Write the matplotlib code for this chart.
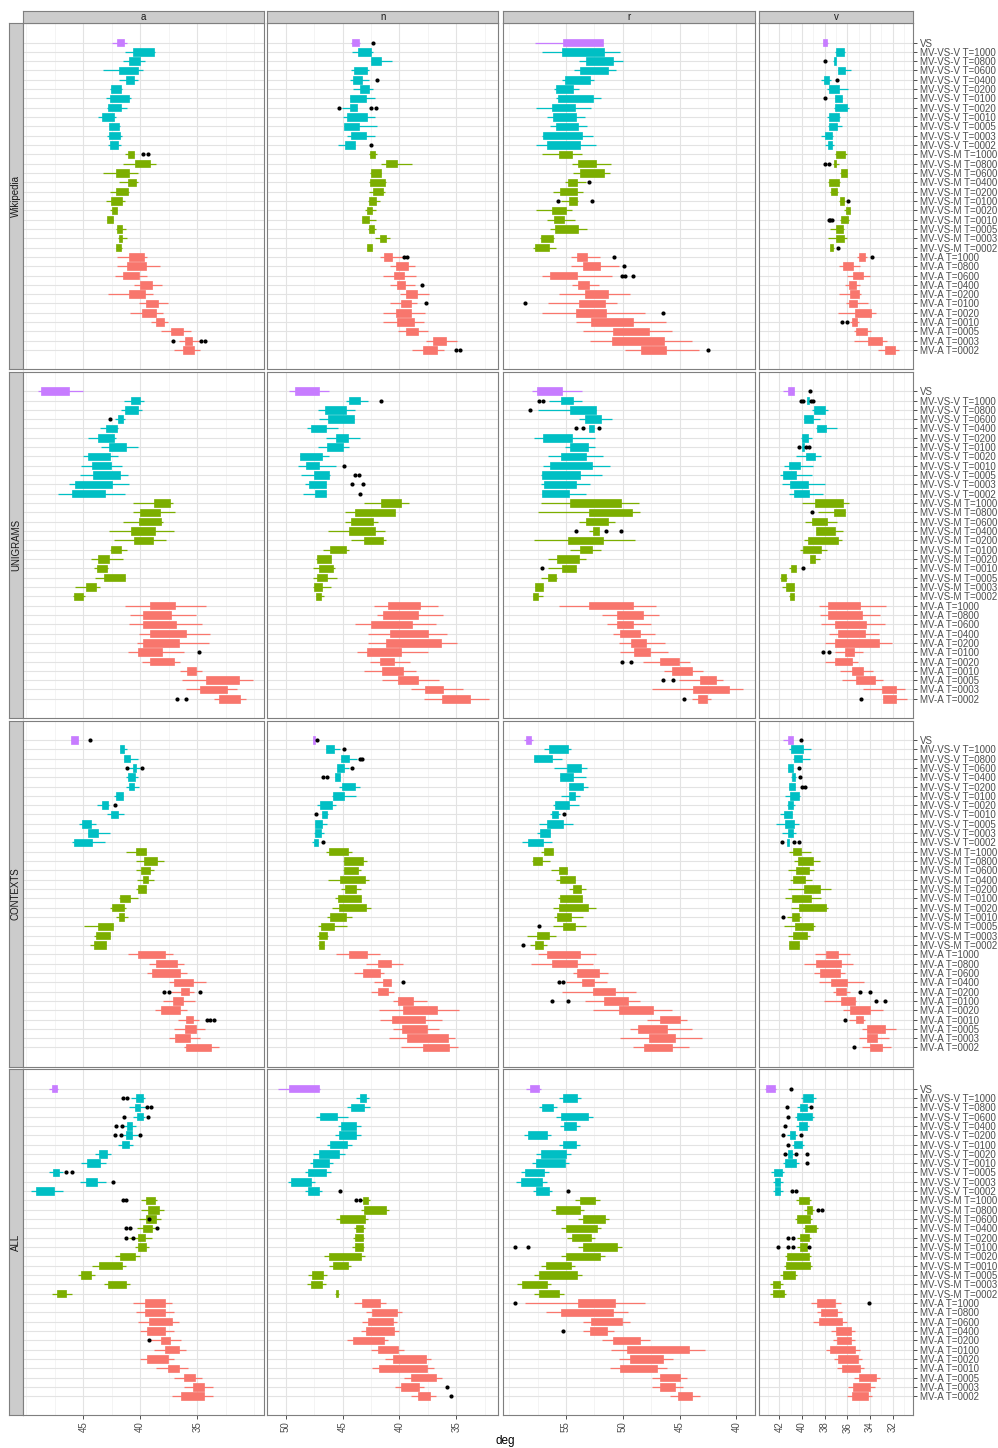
import matplotlib.pyplot as plt

plt.rcParams['font.family'] = ['Liberation Sans', 'DejaVu Sans']

t_codes = ["1000", "0800", "0600", "0400", "0200", "0100", "0020", "0010", "0005", "0003", "0002"]
categories = (["VS"] + ["MV-VS-V T=" + t for t in t_codes]
              + ["MV-VS-M T=" + t for t in t_codes] + ["MV-A T=" + t for t in t_codes])
group_colors = ["#C77CFF"] + ["#00BFC4"] * 11 + ["#7CAE00"] * 11 + ["#F8766D"] * 11

sources = ["Wikipedia", "UNIGRAMS", "CONTEXTS", "ALL"]
parts = ["a", "n", "r", "v"]

# x range (left, right) and labelled ticks of each column
col_limits = [(50.33, 29.11), (51.62, 31.31), (60.57, 38.33), (43.82, 30.18)]
col_ticks = [[45, 40, 35], [50, 45, 40, 35], [55, 50, 45, 40], [42, 40, 38, 36, 34, 32]]
col_minor = [[50, 47.5, 42.5, 37.5, 32.5, 30], [47.5, 42.5, 37.5, 32.5],
             [60, 57.5, 52.5, 47.5, 42.5, 40.0], [43, 41, 39, 37, 35, 33, 31]]

# box stats per row: (whisker low, q1, q3, whisker high), rows top to bottom
wiki_a = [(41.17, 41.47, 42.05, 42.52), (38.71, 38.77, 40.64, 41.35), (39.62, 40.06, 41.00, 41.52),
          (39.73, 40.23, 41.88, 43.31), (40.23, 40.53, 41.29, 41.91), (41.61, 41.70, 42.58, 42.64),
          (40.79, 41.00, 42.70, 43.05), (41.14, 41.67, 42.87, 42.93), (42.11, 42.32, 43.37, 43.75),
          (41.82, 41.91, 42.73, 42.76), (41.64, 41.76, 42.79, 42.90), (41.67, 41.97, 42.67, 42.84),
          (40.58, 40.58, 41.08, 41.35), (38.59, 39.18, 40.47, 41.52), (40.23, 40.99, 42.11, 43.31),
          (40.23, 40.41, 41.08, 41.91), (41.03, 41.05, 42.17, 42.70), (41.32, 41.64, 42.61, 43.02),
          (42.05, 42.08, 42.49, 42.70), (42.37, 42.43, 42.93, 42.93), (41.29, 41.58, 42.05, 42.11),
          (41.20, 41.58, 41.88, 41.93), (41.61, 41.67, 42.11, 42.17), (39.38, 39.71, 41.00, 42.05),
          (38.30, 39.47, 41.17, 42.08), (39.44, 40.14, 41.52, 42.26), (38.12, 39.00, 40.00, 40.56),
          (38.88, 39.62, 41.00, 42.82), (37.59, 38.41, 39.50, 40.14), (37.97, 38.65, 39.85, 40.94),
          (37.53, 37.94, 38.59, 39.09), (35.51, 36.24, 37.33, 38.15), (34.78, 35.48, 36.10, 36.59),
          (34.72, 35.25, 36.24, 37.00)]
wiki_a_out = [(12, 39.73), (12, 39.32), (32, 37.09), (32, 34.63), (32, 34.34)]

wiki_n = [(43.46, 43.55, 44.19, 44.28), (42.29, 42.49, 43.66, 44.16), (40.70, 41.61, 42.52, 42.52),
          (42.70, 42.88, 44.00, 44.22), (42.70, 43.28, 44.10, 44.37), (42.35, 42.64, 43.49, 44.07),
          (42.14, 42.93, 44.34, 44.37), (43.69, 43.72, 44.34, 45.07), (42.11, 42.85, 44.60, 44.93),
          (42.00, 43.55, 44.87, 44.87), (42.17, 42.93, 44.22, 44.57), (43.90, 43.90, 44.75, 45.39),
          (41.99, 42.11, 42.58, 42.64), (38.90, 40.23, 41.17, 41.58), (41.61, 41.61, 42.46, 42.61),
          (41.20, 41.23, 42.61, 42.64), (41.26, 41.46, 42.35, 42.64), (41.70, 42.08, 42.72, 42.81),
          (42.02, 42.43, 42.84, 43.05), (42.08, 42.67, 43.28, 43.31), (42.02, 42.23, 42.67, 42.78),
          (40.82, 41.14, 41.70, 42.11), (42.38, 42.40, 42.84, 42.87), (39.71, 40.62, 41.32, 41.70),
          (38.62, 39.29, 40.29, 40.79), (38.56, 39.56, 40.44, 41.49), (38.65, 39.47, 40.23, 40.79),
          (37.36, 38.50, 39.44, 39.94), (38.47, 39.00, 39.88, 40.85), (37.77, 39.00, 40.29, 41.43),
          (37.83, 38.76, 40.20, 41.49), (37.48, 38.33, 39.41, 40.12), (34.95, 35.89, 37.01, 37.65),
          (36.07, 36.71, 37.89, 38.91)]
wiki_n_out = [(0, 42.32), (4, 41.96), (7, 45.28), (7, 42.49), (7, 42.05), (11, 42.52), (23, 39.59),
              (23, 39.35), (26, 38.06), (28, 37.65), (33, 35.01), (33, 34.66)]

wiki_r = [(51.70, 51.70, 55.22, 57.77), (50.23, 51.64, 55.31, 57.12), (49.94, 50.82, 53.25, 53.84),
          (50.58, 51.32, 53.75, 54.28), (52.52, 52.87, 55.07, 55.31), (53.84, 54.40, 55.86, 56.01),
          (51.93, 52.64, 55.66, 55.92), (52.82, 54.19, 56.19, 57.65), (53.34, 54.16, 56.10, 56.66),
          (53.17, 53.96, 55.86, 56.39), (52.64, 53.61, 56.98, 57.12), (52.35, 53.78, 56.66, 57.68),
          (53.61, 54.46, 55.57, 57.12), (51.05, 52.37, 53.93, 54.46), (51.11, 51.67, 53.75, 54.34),
          (53.23, 54.04, 54.81, 55.07), (53.52, 53.99, 55.54, 56.10), (53.96, 53.99, 54.72, 55.45),
          (54.49, 55.01, 56.24, 57.65), (54.19, 55.13, 56.07, 56.69), (53.17, 53.90, 55.95, 56.39),
          (56.04, 56.16, 57.18, 57.27), (55.92, 56.51, 57.74, 57.92), (51.99, 53.14, 54.07, 54.57),
          (50.35, 51.99, 53.46, 54.54), (50.94, 54.04, 56.39, 57.15), (52.11, 52.96, 53.93, 54.51),
          (49.35, 51.26, 53.28, 55.57), (50.47, 51.55, 53.87, 56.57), (48.03, 51.47, 54.10, 57.15),
          (46.19, 49.06, 52.81, 54.10), (45.69, 47.68, 50.82, 53.46), (43.93, 46.36, 50.91, 52.87),
          (43.28, 46.19, 48.39, 49.76)]
wiki_r_out = [(15, 52.99), (17, 55.69), (17, 52.70), (23, 50.73), (24, 49.88), (25, 50.06), (25, 49.82),
              (25, 49.12), (28, 58.65), (29, 46.48), (33, 42.52)]

wiki_v = [(37.68, 37.80, 38.12, 38.12), (36.18, 36.27, 36.98, 37.12), (36.98, 37.00, 37.21, 37.27),
          (35.71, 36.24, 36.83, 36.86), (37.45, 37.62, 38.03, 38.36), (35.95, 36.77, 37.62, 37.77),
          (36.48, 36.48, 37.09, 37.12), (35.89, 36.07, 37.06, 37.21), (36.65, 36.77, 37.59, 37.80),
          (36.45, 36.89, 37.59, 37.74), (37.27, 37.39, 37.94, 38.33), (37.21, 37.33, 37.68, 38.00),
          (36.04, 36.21, 36.98, 37.12), (36.74, 37.00, 37.21, 37.27), (36.04, 36.04, 36.56, 36.62),
          (36.65, 36.77, 37.62, 37.74), (36.80, 36.92, 37.45, 37.56), (36.18, 36.33, 36.68, 36.77),
          (35.74, 35.74, 36.15, 36.33), (35.86, 35.95, 36.53, 36.62), (36.33, 36.39, 36.98, 37.56),
          (36.01, 36.33, 37.00, 37.68), (37.18, 37.24, 37.50, 37.56), (34.27, 34.45, 34.98, 35.16),
          (34.86, 35.51, 36.39, 36.77), (34.04, 34.63, 35.51, 36.04), (34.86, 35.24, 35.89, 36.24),
          (34.80, 35.00, 35.77, 36.71), (34.21, 35.13, 35.86, 36.12), (33.51, 33.89, 35.36, 36.83),
          (34.95, 35.16, 35.57, 35.74), (33.92, 34.27, 35.27, 35.45), (32.52, 32.98, 34.16, 35.42),
          (31.40, 31.78, 32.66, 33.27)]
wiki_v_out = [(2, 37.97), (4, 36.89), (6, 37.97), (13, 38.00), (13, 37.65), (17, 35.98), (19, 37.65),
              (19, 37.50), (19, 37.33), (22, 36.80), (23, 33.80), (30, 36.48), (30, 36.07)]

uni_a = [(45.04, 46.28, 48.68, 49.01), (39.71, 40.03, 40.85, 41.44), (39.82, 40.17, 41.38, 41.67),
         (41.38, 41.55, 41.96, 42.26), (41.99, 42.02, 42.99, 43.58), (42.11, 42.35, 43.75, 44.58),
         (40.17, 41.29, 42.76, 43.43), (41.93, 42.64, 44.63, 45.02), (41.58, 42.55, 44.25, 45.25),
         (41.11, 41.82, 44.17, 45.31), (41.00, 42.46, 45.78, 46.22), (41.38, 43.08, 46.01, 47.19),
         (37.09, 37.36, 38.77, 40.67), (36.92, 38.27, 40.06, 40.67), (37.97, 38.21, 40.09, 41.52),
         (37.03, 38.74, 40.82, 42.76), (37.77, 38.85, 40.59, 42.32), (41.14, 41.70, 42.55, 42.67),
         (41.52, 42.73, 43.72, 44.31), (42.82, 42.93, 43.81, 44.08), (41.32, 41.32, 43.17, 43.96),
         (43.58, 43.90, 44.75, 45.78), (44.84, 45.02, 45.81, 45.95), (34.19, 36.92, 39.18, 41.35),
         (35.13, 37.27, 39.73, 40.94), (34.54, 36.89, 39.79, 40.97), (33.87, 36.01, 39.18, 40.09),
         (33.98, 36.57, 39.73, 40.29), (36.20, 38.06, 40.20, 41.11), (36.54, 37.00, 39.18, 39.82),
         (34.54, 35.13, 35.86, 36.54), (30.08, 31.37, 34.25, 36.36), (31.55, 32.43, 34.78, 36.01),
         (30.70, 31.25, 33.10, 33.57)]
uni_a_out = [(3, 42.64), (28, 34.86), (33, 36.77), (33, 36.01)]

uni_n = [(46.19, 47.09, 49.18, 49.67), (42.78, 43.49, 44.45, 44.69), (43.87, 44.69, 46.54, 47.18),
         (44.01, 44.01, 46.30, 47.06), (45.36, 46.45, 47.77, 48.12), (43.46, 44.54, 45.60, 46.45),
         (44.48, 44.98, 46.39, 47.15), (46.16, 46.83, 48.71, 48.77), (45.60, 47.04, 48.21, 48.88),
         (46.07, 46.16, 47.50, 48.65), (46.45, 46.45, 47.92, 48.30), (46.48, 46.48, 47.42, 48.47),
         (39.12, 39.85, 41.61, 43.08), (40.38, 40.38, 43.90, 44.75), (41.90, 42.32, 44.25, 44.75),
         (41.29, 42.17, 44.48, 46.24), (41.14, 41.46, 43.11, 44.25), (44.48, 44.72, 46.07, 46.68),
         (46.04, 46.04, 47.27, 47.36), (45.63, 45.86, 47.06, 47.56), (45.51, 46.39, 47.27, 47.56),
         (46.04, 46.77, 47.50, 47.62), (46.62, 46.86, 47.30, 47.36), (36.63, 38.18, 41.02, 42.26),
         (36.19, 38.39, 41.46, 41.99), (36.77, 38.91, 42.49, 43.87), (35.80, 37.45, 40.82, 42.81),
         (34.98, 36.36, 41.17, 42.78), (37.53, 39.88, 42.87, 43.69), (39.06, 40.47, 41.67, 42.58),
         (38.53, 39.65, 41.52, 43.08), (36.54, 38.39, 40.09, 41.52), (34.37, 36.21, 37.77, 39.00),
         (32.17, 33.78, 36.30, 37.83)]
uni_n_out = [(1, 41.61), (8, 44.90), (9, 43.87), (9, 43.58), (10, 44.16), (10, 43.17), (11, 43.46)]

uni_r = [(53.55, 55.37, 57.56, 57.95), (53.61, 54.40, 55.42, 56.45), (52.37, 52.37, 54.63, 57.48),
         (50.97, 51.90, 53.31, 53.84), (52.55, 52.55, 52.93, 52.93), (52.43, 54.49, 56.98, 57.80),
         (52.43, 53.08, 54.63, 55.07), (51.76, 53.25, 55.42, 56.54), (51.14, 52.67, 56.39, 57.04),
         (51.85, 53.78, 57.07, 57.18), (52.90, 54.10, 56.89, 57.24), (53.23, 54.72, 57.15, 57.15),
         (48.59, 50.15, 54.63, 57.21), (48.44, 49.18, 52.93, 57.45), (50.67, 51.26, 53.22, 53.84),
         (52.11, 52.11, 52.61, 52.93), (48.88, 51.76, 54.84, 57.80), (51.93, 52.67, 53.75, 54.63),
         (53.25, 53.81, 55.75, 56.54), (54.13, 54.13, 55.34, 56.54), (55.81, 55.89, 56.54, 57.24),
         (56.98, 56.98, 57.71, 57.77), (57.04, 57.42, 57.86, 57.92), (47.10, 49.12, 52.93, 55.57),
         (46.83, 48.24, 50.53, 51.85), (47.51, 49.12, 50.47, 51.38), (47.13, 48.50, 50.20, 50.88),
         (46.25, 47.97, 49.26, 50.29), (45.98, 47.59, 48.97, 50.23), (44.07, 45.01, 46.68, 48.18),
         (42.90, 43.93, 45.63, 46.39), (41.14, 41.82, 43.20, 45.01), (39.38, 40.67, 43.81, 47.42),
         (42.26, 42.55, 43.34, 43.87)]
uni_r_out = [(1, 57.33), (1, 57.04), (2, 58.15), (4, 54.10), (4, 53.49), (4, 52.05), (15, 54.13),
             (15, 51.49), (15, 50.12), (19, 57.07), (29, 50.03), (29, 49.29), (31, 46.45), (31, 45.60),
             (33, 44.57)]

uni_v = [(40.74, 40.74, 41.21, 41.67), (39.35, 39.35, 39.53, 39.56), (37.74, 37.97, 38.97, 39.09),
         (38.44, 39.03, 39.79, 39.85), (36.92, 37.89, 38.68, 38.74), (39.12, 39.47, 40.00, 40.06),
         (39.85, 39.85, 40.03, 40.03), (38.33, 38.88, 39.62, 40.50), (39.03, 40.15, 41.15, 41.56),
         (39.12, 40.56, 41.67, 41.91), (38.00, 39.47, 41.09, 41.79), (38.18, 39.38, 40.71, 41.15),
         (35.86, 36.39, 38.83, 40.00), (36.21, 36.21, 37.21, 38.56), (36.92, 37.80, 39.09, 39.76),
         (36.39, 37.12, 38.74, 38.74), (36.48, 36.80, 39.44, 39.85), (37.80, 38.33, 39.91, 40.21),
         (38.39, 38.86, 39.27, 39.32), (40.56, 40.56, 40.94, 41.15), (41.32, 41.38, 41.82, 41.91),
         (40.71, 40.71, 41.38, 41.76), (40.74, 40.74, 41.09, 41.15), (32.60, 34.86, 37.74, 38.53),
         (33.10, 34.71, 37.74, 38.39), (32.66, 34.39, 37.12, 38.30), (33.22, 34.48, 36.86, 37.65),
         (32.07, 33.25, 37.06, 37.94), (34.63, 35.42, 36.24, 37.06), (35.10, 35.60, 37.06, 37.94),
         (33.75, 34.63, 35.63, 36.68), (32.89, 33.57, 35.21, 36.48), (30.90, 31.72, 32.95, 34.63),
         (30.75, 31.69, 32.86, 32.86)]
uni_v_out = [(0, 39.27), (1, 40.09), (1, 39.91), (1, 39.21), (1, 39.03), (6, 40.29), (6, 39.62),
             (6, 39.41), (13, 39.09), (19, 39.94), (28, 38.18), (28, 37.59), (33, 34.78)]

ctx_a = [(45.43, 45.43, 46.10, 46.10), (41.17, 41.41, 41.76, 41.82), (40.23, 40.91, 41.44, 41.47),
         (40.06, 40.35, 40.64, 41.08), (40.20, 40.50, 41.08, 41.29), (40.14, 40.59, 41.03, 41.29),
         (41.55, 41.55, 42.14, 42.35), (42.76, 42.87, 43.40, 43.78), (41.47, 41.99, 42.61, 42.90),
         (43.93, 44.37, 45.13, 45.40), (42.70, 43.72, 44.58, 44.63), (43.08, 44.25, 45.81, 46.01),
         (39.50, 39.50, 40.35, 41.26), (37.91, 38.50, 39.65, 40.41), (38.83, 39.12, 39.97, 40.41),
         (38.83, 39.29, 39.76, 40.26), (39.47, 39.47, 40.23, 40.35), (40.23, 40.94, 41.82, 41.91),
         (41.23, 41.44, 42.52, 42.70), (41.05, 41.44, 41.91, 42.17), (42.40, 42.40, 43.75, 44.93),
         (42.70, 42.70, 43.90, 44.08), (43.02, 43.02, 44.11, 44.46), (37.12, 37.86, 40.17, 41.08),
         (36.18, 36.77, 38.65, 39.23), (35.89, 36.54, 38.97, 39.44), (34.19, 35.36, 37.03, 37.50),
         (35.30, 35.74, 36.45, 37.30), (35.16, 36.21, 37.09, 38.00), (35.89, 36.54, 38.18, 38.74),
         (34.86, 35.36, 36.01, 36.65), (34.28, 35.13, 36.10, 37.06), (34.72, 35.60, 36.94, 37.47),
         (33.07, 33.78, 35.95, 36.15)]
ctx_a_out = [(0, 44.43), (3, 41.20), (3, 39.88), (7, 42.26), (27, 37.94), (27, 37.50), (27, 34.75),
             (30, 34.13), (30, 33.84), (30, 33.54)]

ctx_n = [(47.39, 47.39, 47.56, 47.56), (45.22, 45.77, 46.45, 46.45), (43.69, 44.42, 45.13, 45.13),
         (44.48, 44.92, 45.45, 45.51), (45.22, 45.22, 45.63, 45.63), (43.46, 43.93, 45.01, 45.31),
         (43.84, 44.89, 45.86, 45.95), (45.60, 45.95, 46.98, 47.21), (46.24, 46.39, 46.77, 46.83),
         (46.33, 46.77, 47.42, 47.45), (46.65, 46.89, 47.42, 47.48), (47.12, 47.18, 47.50, 47.68),
         (44.19, 44.54, 46.16, 46.45), (42.87, 43.19, 44.92, 44.98), (43.34, 43.66, 44.92, 44.98),
         (42.67, 42.99, 45.22, 46.30), (43.40, 43.84, 44.78, 45.13), (43.37, 43.37, 45.36, 45.66),
         (42.52, 42.93, 45.31, 45.92), (44.19, 44.69, 46.07, 46.39), (44.63, 45.74, 46.89, 47.12),
         (46.30, 46.33, 47.06, 47.21), (46.62, 46.62, 47.06, 47.12), (41.70, 42.87, 44.48, 45.57),
         (39.65, 40.76, 41.93, 42.93), (41.40, 41.67, 43.17, 43.98), (40.73, 40.73, 41.41, 42.20),
         (40.44, 40.99, 41.90, 42.52), (37.62, 38.80, 40.15, 40.61), (34.75, 36.74, 39.65, 41.79),
         (36.24, 37.74, 40.67, 41.70), (36.54, 37.59, 39.79, 40.61), (35.10, 35.72, 39.35, 40.91),
         (34.87, 35.66, 37.92, 39.88)]
ctx_n_out = [(0, 47.21), (1, 44.92), (2, 43.46), (2, 43.28), (3, 44.19), (4, 46.68), (4, 46.39),
             (8, 47.33), (11, 46.68), (26, 39.73)]

ctx_r = [(57.92, 58.09, 58.50, 58.68), (54.57, 54.78, 56.51, 56.89), (55.34, 56.22, 57.83, 57.83),
         (53.14, 53.69, 54.93, 56.01), (53.23, 54.34, 55.51, 55.51), (53.05, 53.46, 54.75, 54.75),
         (53.75, 54.19, 54.75, 55.45), (53.81, 54.75, 55.98, 56.10), (55.51, 55.72, 56.19, 56.39),
         (54.40, 55.22, 56.63, 57.33), (56.39, 56.39, 57.27, 57.51), (56.24, 56.98, 58.30, 58.85),
         (56.10, 56.13, 56.89, 57.21), (56.39, 57.07, 57.89, 58.03), (54.93, 54.93, 55.60, 56.30),
         (54.22, 54.22, 55.51, 55.86), (53.25, 53.72, 54.40, 54.72), (53.58, 53.58, 55.51, 55.69),
         (52.34, 53.08, 55.60, 56.13), (53.46, 54.54, 55.75, 56.04), (53.23, 54.19, 55.28, 56.16),
         (55.89, 56.48, 57.56, 58.44), (56.69, 57.04, 57.77, 58.15), (52.34, 53.75, 56.66, 57.45),
         (52.61, 53.99, 56.19, 58.06), (51.32, 52.08, 54.02, 54.40), (51.41, 52.52, 53.58, 54.99),
         (48.79, 50.67, 52.61, 55.34), (48.47, 49.56, 51.61, 53.31), (45.69, 47.36, 50.32, 52.61),
         (44.37, 44.95, 46.71, 47.89), (43.93, 46.13, 48.65, 49.32), (43.02, 45.40, 47.71, 50.20),
         (44.16, 45.66, 48.15, 49.09)]
ctx_r_out = [(8, 55.19), (20, 57.33), (22, 58.80), (26, 55.60), (26, 55.22), (28, 56.27), (28, 54.84)]

ctx_v = [(40.79, 40.79, 41.26, 41.70), (39.18, 39.91, 40.94, 41.12), (39.27, 39.97, 40.74, 40.79),
         (40.79, 40.79, 41.21, 41.21), (40.53, 40.59, 40.91, 40.97), (40.59, 40.59, 41.15, 41.18),
         (40.21, 40.24, 41.03, 41.53), (40.59, 40.82, 41.26, 41.32), (40.85, 40.85, 41.62, 41.91),
         (40.29, 40.68, 41.53, 42.26), (40.50, 40.77, 41.26, 41.73), (41.15, 41.15, 41.35, 41.35),
         (39.21, 40.09, 40.82, 41.15), (38.44, 39.03, 40.32, 40.74), (38.97, 39.35, 40.50, 41.21),
         (39.12, 39.74, 40.79, 41.03), (37.42, 38.39, 39.82, 41.21), (38.33, 39.18, 40.88, 41.53),
         (37.71, 37.86, 40.26, 40.94), (40.09, 40.24, 40.88, 41.32), (38.83, 39.00, 40.59, 41.56),
         (39.29, 39.56, 40.82, 41.24), (40.29, 40.29, 41.15, 41.15), (35.80, 36.86, 37.86, 38.83),
         (35.54, 36.56, 38.74, 39.85), (36.18, 36.62, 38.39, 38.97), (34.57, 36.04, 37.42, 38.53),
         (35.80, 36.10, 36.98, 37.30), (35.21, 35.30, 36.56, 38.09), (32.81, 34.04, 35.74, 36.39),
         (34.45, 34.63, 35.21, 35.89), (31.69, 32.69, 34.24, 34.71), (32.36, 33.39, 34.30, 34.98),
         (32.16, 32.95, 33.98, 34.74)]
ctx_v_out = [(0, 40.06), (3, 40.29), (4, 40.21), (5, 39.97), (5, 39.74), (11, 41.79), (11, 40.68),
             (11, 40.29), (19, 41.67), (27, 34.86), (27, 33.98), (28, 33.45), (28, 32.72), (30, 36.21),
             (33, 35.39)]

all_a = [(47.2, 47.3, 47.8, 48.0), (39.6, 39.8, 40.4, 40.8), (39.4, 40.0, 40.5, 41.0),
         (39.6, 39.8, 40.3, 40.6), (40.4, 40.7, 41.2, 41.5), (40.2, 40.7, 41.3, 41.7),
         (40.6, 41.0, 41.6, 42.0), (42.6, 42.9, 43.6, 44.0), (43.0, 43.5, 44.7, 45.2),
         (46.8, 47.1, 47.7, 48.0), (43.0, 43.8, 44.8, 45.3), (46.8, 47.6, 49.2, 49.6),
         (38.5, 38.7, 39.5, 39.9), (37.9, 38.4, 39.3, 39.9), (38.2, 38.6, 39.5, 40.1),
         (38.6, 39.0, 39.8, 40.3), (39.0, 39.6, 40.2, 41.0), (39.2, 39.5, 40.2, 40.5),
         (40.0, 40.5, 41.8, 42.2), (41.3, 41.6, 43.6, 44.2), (44.0, 44.3, 45.2, 45.5),
         (40.9, 41.3, 42.8, 43.2), (46.0, 46.5, 47.3, 47.8), (37.2, 37.8, 39.6, 40.6),
         (37.0, 37.8, 39.6, 40.4), (36.6, 37.2, 39.2, 40.2), (37.0, 37.8, 39.4, 40.0),
         (36.4, 37.4, 38.2, 39.2), (36.0, 36.6, 37.8, 38.8), (37.0, 37.6, 39.4, 40.0),
         (35.8, 36.6, 37.6, 38.6), (34.6, 35.2, 36.2, 37.0), (33.6, 34.4, 35.4, 36.2),
         (33.6, 34.4, 36.4, 37.2)]
all_a_out = [(1, 41.5), (1, 41.2), (2, 39.4), (2, 39.1), (3, 41.4), (3, 39.3), (4, 42.1), (4, 41.6),
             (5, 42.2), (5, 41.7), (5, 40.0), (9, 46.5), (9, 46.0), (10, 42.4), (12, 41.5), (12, 41.3),
             (14, 39.2), (15, 41.3), (15, 40.9), (15, 38.5), (16, 41.3), (16, 40.6), (27, 39.2)]

all_n = [(47.0, 47.1, 49.7, 50.7), (42.7, 42.9, 43.5, 43.8), (42.6, 43.1, 44.3, 44.6),
         (44.5, 45.5, 47.0, 47.3), (43.4, 43.8, 45.1, 45.4), (43.4, 43.8, 45.3, 45.7),
         (44.2, 44.6, 46.1, 46.4), (44.8, 45.3, 47.1, 47.6), (45.8, 46.2, 47.6, 47.9),
         (46.0, 46.5, 48.0, 48.3), (47.4, 47.8, 49.5, 49.8), (46.8, 47.1, 48.0, 48.3),
         (42.6, 42.8, 43.2, 43.4), (40.9, 41.2, 43.1, 43.4), (42.8, 43.0, 45.2, 45.6),
         (43.0, 43.2, 43.8, 44.0), (43.1, 43.2, 43.9, 44.1), (43.1, 43.2, 43.9, 44.2),
         (43.0, 43.4, 46.2, 46.6), (44.3, 44.5, 45.8, 46.2), (46.4, 46.7, 47.7, 48.0),
         (46.5, 46.8, 47.8, 48.1), (45.3, 45.4, 45.6, 45.7), (41.2, 41.7, 43.3, 44.0),
         (39.8, 40.2, 42.4, 42.9), (40.2, 40.6, 42.8, 43.3), (40.0, 40.5, 42.9, 43.4),
         (41.0, 41.4, 44.1, 44.6), (39.6, 40.1, 41.9, 42.5), (37.2, 37.7, 40.6, 41.3),
         (37.0, 37.6, 41.8, 42.4), (36.3, 36.8, 39.0, 39.6), (37.8, 38.3, 39.9, 40.4),
         (36.8, 37.3, 38.4, 39.0)]
all_n_out = [(11, 45.2), (12, 43.8), (12, 43.5), (32, 35.8), (33, 35.5)]

all_r = [(57.2, 57.4, 58.2, 58.5), (53.7, 54.0, 55.3, 55.6), (55.8, 56.1, 57.1, 57.4),
         (52.6, 53.1, 55.4, 55.9), (53.8, 54.1, 55.2, 55.5), (56.3, 56.7, 58.3, 58.7),
         (53.8, 54.1, 55.3, 55.6), (54.6, 55.0, 57.2, 57.6), (54.7, 55.1, 57.6, 58.0),
         (56.5, 56.9, 58.6, 59.0), (56.7, 57.1, 59.0, 59.4), (56.2, 56.5, 57.6, 57.9),
         (52.0, 52.4, 53.8, 54.2), (53.4, 53.8, 55.9, 56.3), (51.2, 51.6, 53.5, 53.9),
         (51.9, 52.3, 55.0, 55.4), (52.4, 52.8, 54.5, 54.9), (50.1, 50.5, 53.5, 53.9),
         (51.6, 52.0, 55.0, 55.4), (54.2, 54.6, 56.8, 57.2), (53.6, 54.0, 57.4, 57.8),
         (56.3, 56.7, 58.9, 59.3), (55.2, 55.6, 57.4, 57.8), (48.0, 50.7, 53.9, 58.6),
         (49.5, 50.9, 55.4, 56.8), (49.4, 50.1, 52.8, 53.5), (50.8, 51.4, 52.9, 53.5),
         (47.6, 48.5, 50.9, 51.8), (42.8, 44.2, 49.6, 51.0), (45.6, 46.5, 49.4, 50.3),
         (46.1, 47.0, 50.2, 51.1), (44.3, 45.0, 46.7, 47.4), (44.7, 45.4, 46.7, 47.4),
         (43.2, 43.9, 45.1, 45.8)]
all_r_out = [(11, 54.8), (17, 59.5), (17, 58.3), (23, 59.5), (26, 55.3)]

all_v = [(42.3, 42.4, 43.2, 43.3), (38.8, 39.0, 39.9, 40.1), (39.4, 39.6, 40.2, 40.4),
         (38.9, 39.1, 40.4, 40.6), (39.4, 39.6, 40.3, 40.5), (40.4, 40.6, 41.1, 41.3),
         (39.8, 40.0, 40.7, 40.9), (40.7, 40.9, 41.2, 41.4), (40.3, 40.5, 41.5, 41.7),
         (41.6, 41.8, 42.5, 42.7), (41.7, 41.9, 42.4, 42.6), (41.7, 41.9, 42.4, 42.6),
         (39.2, 39.4, 40.3, 40.5), (38.9, 39.1, 39.6, 39.8), (39.1, 39.3, 40.4, 40.6),
         (38.6, 38.8, 39.7, 39.9), (39.2, 39.4, 40.2, 40.4), (39.4, 39.6, 40.2, 40.4),
         (39.2, 39.4, 41.3, 41.5), (39.1, 39.3, 41.4, 41.6), (40.4, 40.6, 41.7, 41.9),
         (41.7, 41.9, 42.6, 42.8), (41.4, 41.6, 42.6, 42.8), (36.6, 37.1, 38.7, 39.2),
         (36.5, 36.9, 38.3, 38.7), (36.0, 36.5, 38.5, 39.0), (35.3, 35.7, 37.0, 37.4),
         (35.3, 35.7, 36.9, 37.3), (34.9, 35.3, 37.5, 37.9), (34.7, 35.1, 36.8, 37.2),
         (34.5, 34.9, 36.5, 36.9), (33.1, 33.5, 35.0, 35.4), (33.6, 34.0, 35.5, 35.9),
         (33.8, 34.2, 35.6, 36.0)]
all_v_out = [(0, 41.0), (2, 41.3), (2, 39.2), (3, 41.2), (4, 41.5), (5, 41.7), (5, 40.1), (6, 41.2),
             (7, 41.5), (7, 40.5), (7, 39.6), (8, 39.6), (11, 40.9), (11, 40.5), (13, 38.6), (13, 38.2),
             (16, 41.2), (16, 40.8), (17, 42.1), (17, 41.2), (17, 40.8), (17, 39.4), (23, 34.1)]

panels = [[(wiki_a, wiki_a_out), (wiki_n, wiki_n_out), (wiki_r, wiki_r_out), (wiki_v, wiki_v_out)],
          [(uni_a, uni_a_out), (uni_n, uni_n_out), (uni_r, uni_r_out), (uni_v, uni_v_out)],
          [(ctx_a, ctx_a_out), (ctx_n, ctx_n_out), (ctx_r, ctx_r_out), (ctx_v, ctx_v_out)],
          [(all_a, all_a_out), (all_n, all_n_out), (all_r, all_r_out), (all_v, all_v_out)]]

W, H = 998, 1448


def px_rect(x0, x1, y0, y1):
    return [x0 / W, 1 - y1 / H, (x1 - x0) / W, (y1 - y0) / H]


col_px = [(22.7, 264.3), (267.3, 498.3), (502.7, 755.3), (758.7, 913.3)]
row_top = [23.3, 372.0, 720.7, 1069.4]
row_h = 346.0
pad = 2.06
border = '#7F7F7F'

fig = plt.figure(figsize=(W / 100, H / 100), dpi=100)

for r in range(4):
    y0 = row_top[r]
    y1 = y0 + row_h
    # row strip on the left
    sax = fig.add_axes(px_rect(9.3, 22.5, y0, y1))
    sax.set_facecolor('#CCCCCC')
    sax.set_xticks([])
    sax.set_yticks([])
    for s in sax.spines.values():
        s.set_color(border)
        s.set_linewidth(0.8)
    sax.text(0.5, 0.5, sources[r], rotation=90, ha='center', va='center',
             fontsize=7, color='#1A1A1A', transform=sax.transAxes)

    for c in range(4):
        x0, x1 = col_px[c]
        ax = fig.add_axes(px_rect(x0, x1, y0, y1))
        stats, outs = panels[r][c]
        for i, (wlo, q1, q3, whi) in enumerate(stats):
            col = group_colors[i]
            ax.hlines(i, wlo, whi, color=col, lw=0.9, zorder=2)
            ax.barh(i, q3 - q1, left=q1, height=0.8, color=col,
                    edgecolor=col, linewidth=0.5, zorder=3)
        if outs:
            ax.scatter([v for _, v in outs], [k for k, _ in outs], s=9,
                       color='black', lw=0, zorder=4)

        ax.set_xlim(*col_limits[c])
        ax.set_ylim(len(categories) - 1 + pad, -pad)
        ax.set_xticks(col_ticks[c])
        ax.set_xticks(col_minor[c], minor=True)
        ax.set_yticks(range(len(categories)))
        ax.set_axisbelow(True)
        ax.grid(which='major', color='#E3E3E3', lw=0.8)
        ax.grid(which='minor', axis='x', color='#F3F3F3', lw=0.6)
        for s in ax.spines.values():
            s.set_color(border)
            s.set_linewidth(0.8)
        ax.tick_params(which='minor', length=0)

        if r == 3:
            ax.tick_params(axis='x', which='major', length=3, width=0.6, color='#333333',
                           pad=1.5, labelsize=7, labelcolor='#4D4D4D', labelrotation=90)
        else:
            ax.tick_params(axis='x', which='major', length=0, labelbottom=False)

        if c == 3:
            ax.yaxis.tick_right()
            ax.set_yticklabels(categories)
            ax.tick_params(axis='y', length=3, width=0.6, color='#333333', pad=1.5,
                           labelsize=7, labelcolor='#4D4D4D')
        else:
            ax.tick_params(axis='y', length=0, labelleft=False)

        if r == 0:
            tax = fig.add_axes(px_rect(x0, x1, 10.7, 23.3))
            tax.set_facecolor('#CCCCCC')
            tax.set_xticks([])
            tax.set_yticks([])
            for s in tax.spines.values():
                s.set_color(border)
                s.set_linewidth(0.8)
            tax.text(0.5, 0.5, parts[c], ha='center', va='center', fontsize=7,
                     color='#1A1A1A', transform=tax.transAxes)

fig.text(505 / W, 1 - 1441 / H, 'deg', ha='center', va='center', fontsize=8.5, color='black')

fig.savefig('out.png', dpi=100)
